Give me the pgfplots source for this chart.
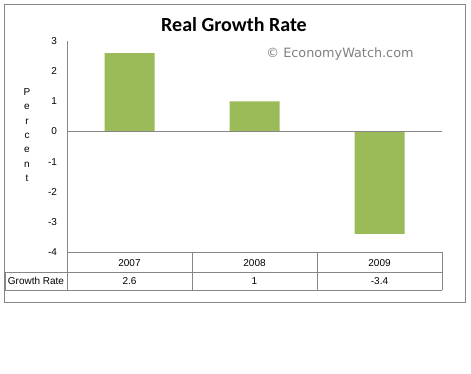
\documentclass[border=0pt]{standalone}
\usepackage{pgfplots}
\pgfplotsset{compat=1.18}
\usepackage{fontspec}
\setmainfont{Liberation Sans}
\newfontfamily\titlefont{Carlito}
\newfontfamily\wmfont{DejaVu Sans}
\definecolor{barc}{HTML}{9BBB59}
\definecolor{ln}{HTML}{868686}
\begin{document}
\begin{tikzpicture}
\path[use as bounding box, fill=white] (0,0) rectangle (471pt,-374pt);
\draw[ln] (4.5pt,-4.5pt) rectangle (465.5pt,-302.5pt);
\begin{axis}[at={(67pt,-252pt)}, anchor=south west, scale only axis,
  width=375pt, height=211pt, xmin=0.5, xmax=3.5, ymin=-4, ymax=3,
  axis x line=none, axis y line=left, y axis line style={ln,-},
  ytick={-4,-3,-2,-1,0,1,2,3}, yticklabels={-4,-3,-2,-1,0,1,2,3},
  major tick length=0pt,
  yticklabel style={font=\fontsize{10}{10}\selectfont, xshift=-6.5pt},
  clip=false]
\addplot[ybar, bar width=50pt, fill=barc, draw=none] coordinates {(1,2.6) (2,1) (3,-3.4)};
\draw[ln] (axis cs:0.5,0) -- (axis cs:3.5,0);
\end{axis}
% title and watermark
\node[font=\titlefont\bfseries\fontsize{20}{22}\selectfont, anchor=base] at (234pt,-32pt) {Real Growth Rate};
\node[font=\wmfont\fontsize{12.8}{14}\selectfont, text=gray] at (340pt,-54pt) {© EconomyWatch.com};
% y label
\node[font=\fontsize{10}{14.3}\selectfont, align=center] at (27pt,-135pt) {P\\e\\r\\c\\e\\n\\t};
% data table
\draw[ln] (67pt,-252pt) -- (442pt,-252pt);
\draw[ln] (5pt,-272pt) -- (442pt,-272pt);
\draw[ln] (5pt,-290pt) -- (442pt,-290pt);
\draw[ln] (5pt,-272pt) -- (5pt,-290pt);
\draw[ln] (67pt,-252pt) -- (67pt,-290pt);
\draw[ln] (192pt,-252pt) -- (192pt,-290pt);
\draw[ln] (317pt,-252pt) -- (317pt,-290pt);
\draw[ln] (442pt,-252pt) -- (442pt,-290pt);
\begin{scope}[every node/.style={font=\fontsize{10}{10}\selectfont}]
\node at (129.5pt,-263pt) {2007};
\node at (254.5pt,-263pt) {2008};
\node at (379.5pt,-263pt) {2009};
\node at (36pt,-281pt) {Growth Rate};
\node at (129.5pt,-281pt) {2.6};
\node at (254.5pt,-281pt) {1};
\node at (379.5pt,-281pt) {-3.4};
\end{scope}
\end{tikzpicture}
\end{document}
